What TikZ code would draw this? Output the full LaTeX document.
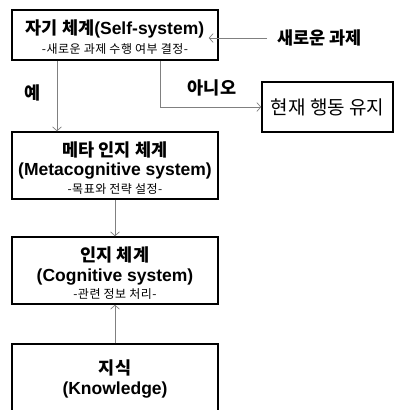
\documentclass[tikz,border=0pt]{standalone}
\usepackage{fontspec}
\setmainfont{Liberation Sans}
\newfontfamily\kr{Noto Sans CJK KR}
\newfontfamily\krsub{Noto Sans CJK KR}[LetterSpace=4]
\usetikzlibrary{arrows.meta, positioning}

\newcommand{\ttlfont}{\fontsize{17.5}{20}\selectfont\bfseries}
\newcommand{\subfont}{\fontsize{12}{14}\selectfont\mdseries\krsub}
\newcommand{\topgap}{\rule{0pt}{19pt}}

\begin{document}
\begin{tikzpicture}[x=1pt, y=-1pt,
  sysbox/.style={draw=black, line width=1.5pt, minimum width=206pt,
    align=center, inner sep=0pt, font=\ttlfont},
  flow/.style={draw=black!50, line width=0.7pt,
    -{Straight Barb[length=4pt,width=9pt]}},
  lbl/.style={font=\ttlfont\kr, inner sep=0pt}]
\useasboundingbox (0,0) rectangle (395,410);
\clip (0,0) rectangle (395,410);

% systems, top to bottom
\node[sysbox, minimum height=50pt] (self) at (115,35)
  {\topgap{\kr 자기 체계}(Self-system)\\[-1pt]{\subfont -새로운 과제 수행 여부 결정-}};
\node[sysbox, minimum height=67pt] (meta) at (115,165.5)
  {\topgap{\kr 메타 인지 체계}\\[-1pt](Metacognitive system)\\[-2pt]{\subfont -목표와 전략 설정-}};
\node[sysbox, minimum height=67pt] (cog) at (115,270.5)
  {\topgap{\kr 인지 체계}\\(Cognitive system)\\[-3pt]{\subfont -관련 정보 처리-}};
\node[sysbox, minimum height=70pt] (know) at (115,379)
  {{\kr 지식}\\(Knowledge)};

% side branch
\node[draw=black, line width=1.5pt, minimum width=131pt, minimum height=50pt,
  inner sep=0pt, font=\fontsize{19}{22}\selectfont\kr] (keep) at (327.5,107)
  {현재 행동 유지};
\node[lbl, anchor=west] (new) at (277,38) {새로운 과제};
\node[lbl] (yes) at (33,93) {예};
\node[lbl] (no) at (212,88) {아니오};

\draw[flow] ([xshift=-10pt]new.west) -- ([xshift=-10pt]new.west -| self.east);
\draw[flow] ([xshift=-58pt]self.south) -- ([xshift=-58pt]meta.north);
\draw[flow] ([xshift=45pt]self.south) |- (keep.west);
\draw[flow] (meta.south) -- (cog.north);
\draw[flow] (know.north) -- (cog.south);
\end{tikzpicture}
\end{document}
